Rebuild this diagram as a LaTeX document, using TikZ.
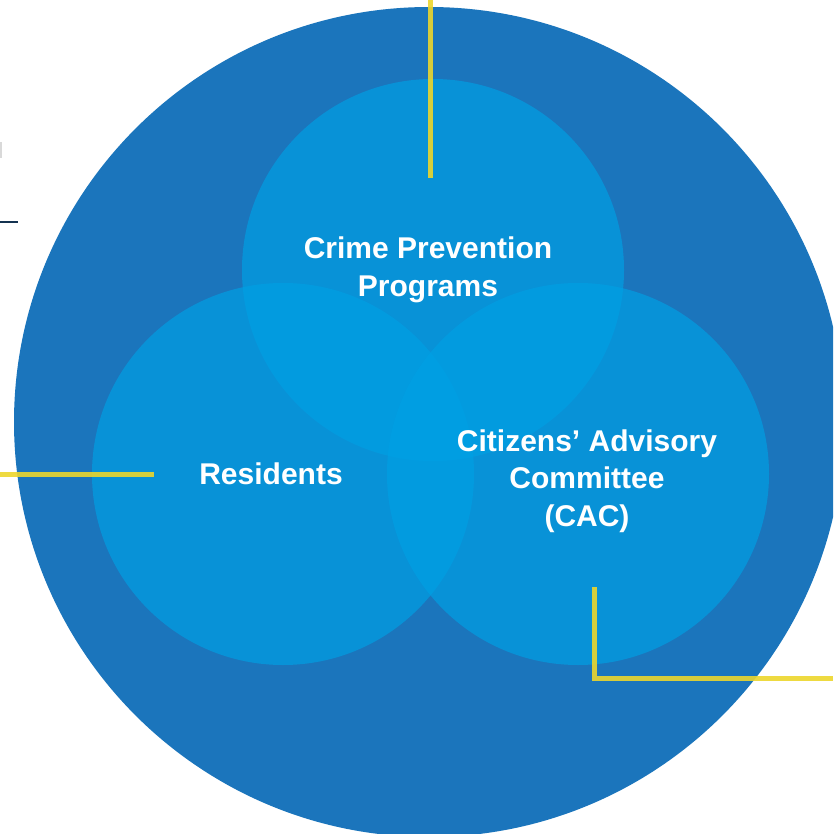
\documentclass[tikz,border=0pt]{standalone}
\usepackage{fontspec}
\setmainfont{Liberation Sans}
\begin{document}
\begin{tikzpicture}[x=1pt,y=-1pt,
  bigc/.style={fill=bigblue},
  smallc/.style={fill=circblue,fill opacity=0.68},
  yline/.style={draw=lineyellow,line width=5pt,draw opacity=0.9},
  lbl/.style={text=white,font=\bfseries\fontsize{30}{37.5}\selectfont,align=center}]
\definecolor{bigblue}{RGB}{27,117,188}
\definecolor{circblue}{RGB}{0,160,228}
\definecolor{lineyellow}{RGB}{236,214,44}
\definecolor{navy}{RGB}{20,50,80}
\useasboundingbox (0,0) rectangle (833,834);
\begin{scope}
\clip (0,0) rectangle (833,834);
\fill[bigc] (429,422) circle[radius=415];
\fill[smallc] (433,270) circle[radius=191];
\fill[smallc] (283,474) circle[radius=191];
\fill[smallc] (578,474) circle[radius=191];
\end{scope}
\coordinate (t0) at (430,0);
\coordinate (t1) at (430,178);
\coordinate (l0) at (0,474);
\coordinate (l1) at (154,474);
\coordinate (r0) at (594,587);
\coordinate (r1) at (594,678);
\coordinate (r2) at (833,678);
\coordinate (n0) at (0,222);
\coordinate (n1) at (18,222);
\draw[yline] (t0) -- (t1);
\draw[yline] (l0) -- (l1);
\draw[yline] (r0) -- (r1) -- (r2);
\draw[navy,line width=2pt] (n0) -- (n1);
\fill[gray!30] (0,142) rectangle (1.5,158);
\node[lbl] (crime) at (428,270) {Crime Prevention\\Programs};
\node[lbl] (res) at (271,474) {Residents};
\node[lbl] (cac) at (587,481) {Citizens’ Advisory\\Committee\\(CAC)};
\end{tikzpicture}
\end{document}
